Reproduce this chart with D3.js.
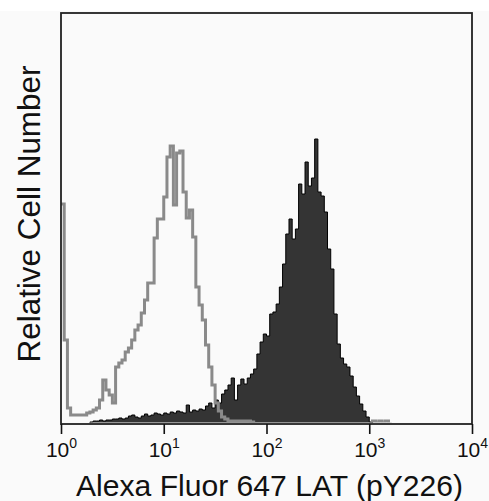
<!DOCTYPE html>
<html>
<head>
<meta charset="utf-8">
<script src="https://cdn.jsdelivr.net/npm/d3@7"></script>
<style>
  html, body { margin: 0; padding: 0; background: #fafafa; }
  svg { display: block; }
  text { font-family: "Liberation Sans", Arial, Helvetica, sans-serif; fill: #111; }
</style>
</head>
<body>
<div class="chart-container"></div>
<script>
//! DATA
const decades = [1, 10, 100, 1000, 10000];
const exponents = ['0', '1', '2', '3', '4'];
const binsPerDecade = 32;

// isotype control (grey outline), one value per channel from 10^0
const controlCounts = [
  220, 84, 16, 9, 9, 9, 9, 9, 11, 12, 14, 16, 24, 44, 34, 29, 21, 57, 61, 64,
  72, 76, 84, 94, 99, 111, 124, 141, 141, 186, 205, 205, 227, 267, 278, 219, 271, 273, 232, 206,
  214, 187, 137, 119, 104, 79, 57, 39, 21, 13, 7, 5, 3, 3, 3, 3, 3, 3, 3, 2,
  0, 0, 0, 0, 0, 0, 0, 0, 0, 0, 0, 0, 0, 0, 0, 0, 0, 0, 0, 0,
  0, 0, 0, 0, 0, 0, 0, 0, 0, 0, 0, 0, 0, 0, 0, 0, 0, 3, 1, 3,
  1, 3, 0
];

// LAT (pY226) stained (dark filled)
const stainedCounts = [
  0, 0, 0, 0, 0, 0, 0, 0, 0, 2, 3, 3, 4, 3, 4, 4, 5, 5, 6, 5,
  6, 8, 9, 7, 6, 8, 10, 8, 9, 11, 10, 9, 11, 10, 12, 11, 13, 12, 11, 19,
  12, 14, 13, 15, 14, 18, 21, 16, 24, 21, 30, 34, 39, 46, 24, 39, 45, 40, 46, 50,
  55, 70, 82, 90, 88, 110, 112, 120, 137, 160, 190, 205, 185, 195, 240, 230, 262, 238, 246, 285,
  232, 228, 212, 175, 155, 110, 80, 66, 60, 57, 48, 37, 28, 20, 13, 7, 2, 0
];

//! CONSTS
const width = 489;
const height = 501;
const margin = { left: 61, right: 472, top: 13, bottom: 424 };

const svg = d3.select('.chart-container')
  .append('svg')
  .attr('width', width)
  .attr('height', height);

svg.append('rect')
  .attr('width', width).attr('height', 11)
  .attr('fill', '#fff');

//! SCALES
const xScale = d3.scaleLog()
  .domain([1, 10000])
  .range([margin.left, margin.right]);

const yScale = d3.scaleLinear()
  .domain([0, 411])
  .range([margin.bottom, margin.top]);

const channel = (i) => Math.pow(10, i / binsPerDecade);

// step points: each bin value plus a closing point
const toSteps = (counts) => counts.map((c, i) => [channel(i), c])
  .concat([[channel(counts.length), 0]]);

svg.append('clipPath').attr('id', 'plot-clip')
  .append('rect')
  .attr('x', margin.left).attr('y', margin.top)
  .attr('width', margin.right - margin.left)
  .attr('height', margin.bottom - margin.top - 1.5);

const plot = svg.append('g').attr('clip-path', 'url(#plot-clip)');

//! STAINED
const area = d3.area()
  .curve(d3.curveStepAfter)
  .x((d) => xScale(d[0]))
  .y0(yScale(0))
  .y1((d) => yScale(d[1]));

plot.append('path')
  .datum(toSteps(stainedCounts))
  .attr('d', area)
  .attr('fill', '#343434')
  .attr('stroke', '#000')
  .attr('stroke-width', 1);

//! CONTROL
const line = d3.line()
  .curve(d3.curveStepAfter)
  .x((d) => xScale(d[0]))
  .y((d) => yScale(d[1]));

plot.append('path')
  .datum(toSteps(controlCounts))
  .attr('d', line)
  .attr('fill', 'none')
  .attr('stroke', '#8a8a8a')
  .attr('stroke-width', 3);

//! FRAME
svg.append('rect')
  .attr('x', margin.left).attr('y', margin.top)
  .attr('width', margin.right - margin.left)
  .attr('height', margin.bottom - margin.top)
  .attr('fill', 'none')
  .attr('stroke', '#222')
  .attr('stroke-width', 1.8);

//! AXIS
const xAxis = d3.axisBottom(xScale)
  .tickValues(decades)
  .tickSize(10)
  .tickSizeOuter(0)
  .tickFormat('');

const gx = svg.append('g')
  .attr('transform', `translate(0,${margin.bottom})`)
  .call(xAxis);

gx.select('.domain').remove();
gx.selectAll('.tick line').attr('stroke', '#111').attr('stroke-width', 1.6);

gx.selectAll('.tick text')
  .attr('y', 33)
  .attr('dy', null)
  .style('font-size', '21px')
  .each(function (d, i) {
    const t = d3.select(this);
    t.append('tspan').text('10');
    t.append('tspan').attr('dy', -9).style('font-size', '14px').text(exponents[i]);
  });

//! LABELS
svg.append('text')
  .attr('x', (margin.left + margin.right) / 2 + 3)
  .attr('y', 496)
  .attr('text-anchor', 'middle')
  .attr('textLength', 387)
  .attr('lengthAdjust', 'spacingAndGlyphs')
  .style('font-size', '30px')
  .text('Alexa Fluor 647 LAT (pY226)');

svg.append('text')
  .attr('transform', 'translate(40,214) rotate(-90)')
  .attr('text-anchor', 'middle')
  .attr('textLength', 297)
  .attr('lengthAdjust', 'spacingAndGlyphs')
  .style('font-size', '31px')
  .text('Relative Cell Number');
</script>
</body>
</html>
